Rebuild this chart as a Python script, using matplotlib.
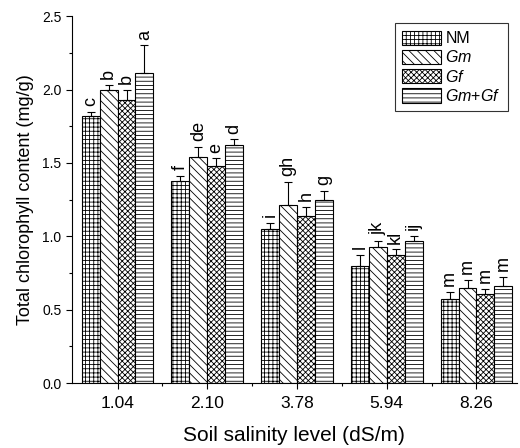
import numpy as np
import matplotlib
matplotlib.use("Agg")
import matplotlib.pyplot as plt

plt.rcParams['font.family'] = ['Liberation Sans', 'DejaVu Sans']
plt.rcParams['mathtext.fontset'] = 'custom'
plt.rcParams['mathtext.rm'] = 'Liberation Sans'
plt.rcParams['mathtext.it'] = 'Liberation Sans:italic'
plt.rcParams['hatch.linewidth'] = 0.6

levels = ['1.04', '2.10', '3.78', '5.94', '8.26']
treatments = ['NM', 'Gm', 'Gf', 'Gm+Gf']
nm = [1.82, 1.38, 1.05, 0.80, 0.57]
gm = [2.00, 1.54, 1.21, 0.93, 0.65]
gf = [1.93, 1.48, 1.14, 0.87, 0.61]
gmgf = [2.11, 1.62, 1.25, 0.97, 0.66]
nm_err = [0.03, 0.03, 0.04, 0.07, 0.05]
gm_err = [0.03, 0.07, 0.16, 0.04, 0.05]
gf_err = [0.07, 0.05, 0.06, 0.04, 0.03]
gmgf_err = [0.19, 0.04, 0.06, 0.03, 0.06]
nm_let = ['c', 'f', 'i', 'l', 'm']
gm_let = ['b', 'de', 'gh', 'jk', 'm']
gf_let = ['b', 'e', 'h', 'kl', 'm']
gmgf_let = ['a', 'd', 'g', 'ij', 'm']

series = [nm, gm, gf, gmgf]
errs = [nm_err, gm_err, gf_err, gmgf_err]
lets = [nm_let, gm_let, gf_let, gmgf_let]
hatches = ['++++', '\\\\\\\\', 'xxxxxx', '----']
labels = ['NM', r'$\it{Gm}$', r'$\it{Gf}$', r'$\it{Gm}$+$\it{Gf}$']

fig = plt.figure(figsize=(5.2, 4.48), dpi=100)
ax = fig.add_axes([0.138, 0.145, 0.856, 0.819])

x = np.arange(len(levels))
w = 0.2
for i in range(4):
    pos = x + (i - 1.5) * w
    ax.bar(pos, series[i], w, color='white', edgecolor='black', linewidth=0.8,
           hatch=hatches[i], label=labels[i],
           yerr=[np.zeros(5), errs[i]], capsize=3,
           error_kw=dict(elinewidth=0.8, capthick=0.8, ecolor='black'))
    for p, v, e, t in zip(pos, series[i], errs[i], lets[i]):
        ax.text(p, v + e + 0.04, t, rotation=90, ha='center', va='bottom',
                fontsize=13)

ax.set_xlim(-0.51, 4.45)
ax.set_ylim(0, 2.5)
ax.set_xticks(x)
ax.set_xticklabels(levels)
ax.set_xticks(x[:-1] + 0.5, minor=True)
ax.set_yticks([0.0, 0.5, 1.0, 1.5, 2.0, 2.5])
ax.set_yticks(np.arange(0.25, 2.5, 0.5), minor=True)
ax.tick_params(axis='both', which='major', direction='out', length=4, width=0.8)
ax.tick_params(axis='both', which='minor', direction='out', length=2.5, width=0.8)
ax.tick_params(axis='x', labelsize=12.5, pad=5)
ax.tick_params(axis='y', labelsize=10)
for s in ['top', 'right']:
    ax.spines[s].set_visible(False)
ax.set_xlabel('Soil salinity level (dS/m)', fontsize=15, labelpad=11)
ax.set_ylabel('Total chlorophyll content (mg/g)', fontsize=13, labelpad=6)

leg = ax.legend(loc='upper right', bbox_to_anchor=(0.98, 0.98), fontsize=11.5,
                fancybox=False, edgecolor='black', handlelength=2.4,
                handleheight=1.0, labelspacing=0.2, handletextpad=0.3,
                borderaxespad=0.0, borderpad=0.45)
leg.get_frame().set_linewidth(0.8)

fig.savefig('out.png', dpi=100)
